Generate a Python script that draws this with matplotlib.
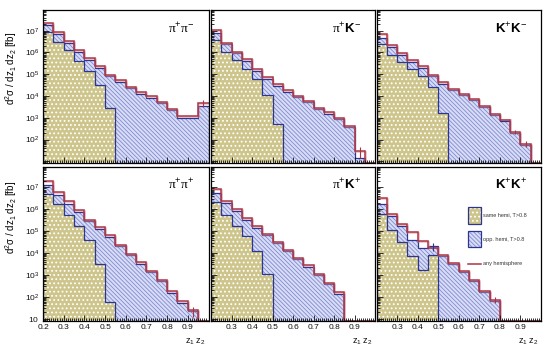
import numpy as np
import matplotlib
matplotlib.use("Agg")
import matplotlib.pyplot as plt
import matplotlib.patheffects as pe
from matplotlib.patches import Rectangle
from matplotlib.lines import Line2D
from matplotlib.ticker import MultipleLocator, LogLocator

plt.rcParams['font.family'] = ['Liberation Sans', 'DejaVu Sans']
plt.rcParams['mathtext.fontset'] = 'custom'
plt.rcParams['mathtext.rm'] = 'Liberation Sans'
plt.rcParams['mathtext.it'] = 'Liberation Sans:italic'
plt.rcParams['mathtext.bf'] = 'Liberation Sans:bold'
plt.rcParams['mathtext.sf'] = 'Liberation Serif'   # used for an upright serif pi
plt.rcParams['hatch.linewidth'] = 0.7

# z1*z2 bins, 0.05 wide
z_edges = np.round(np.arange(0.2, 1.0001, 0.05), 2)

# log10( d2sigma/dz1dz2 [fb] ) per bin, None = empty bin
# any = any hemisphere, opp = opp. hemi T>0.8, same = same hemi T>0.8
pipm_any = [7.37, 6.93, 6.53, 6.12, 5.74, 5.36, 4.98, 4.72, 4.41, 4.17, 3.98, 3.72, 3.40, 3.07, 3.07, 3.68]
pipm_opp = [7.26, 6.84, 6.45, 6.04, 5.66, 5.28, 4.90, 4.65, 4.35, 4.11, 3.92, 3.66, 3.34, 3.01, 3.01, 3.56]
pipm_same = [6.96, 6.50, 6.09, 5.63, 5.17, 4.52, 3.45] + [None] * 9

piKm_any = [7.03, 6.45, 6.04, 5.69, 5.25, 4.85, 4.55, 4.26, 4.01, 3.79, 3.45, 3.25, 2.99, 2.61, 1.47, None]
piKm_opp = [6.91, 6.38, 5.97, 5.62, 5.17, 4.79, 4.47, 4.18, 3.95, 3.72, 3.40, 3.19, 2.95, 2.58, 1.16, None]
piKm_same = [6.58, 6.04, 5.66, 5.25, 4.78, 4.03, 2.73] + [None] * 9

KpKm_any = [6.84, 6.32, 5.97, 5.66, 5.36, 4.98, 4.64, 4.33, 4.09, 3.86, 3.56, 3.19, 2.92, 2.35, 1.80, None]
KpKm_opp = [6.65, 6.24, 5.89, 5.58, 5.28, 4.90, 4.56, 4.29, 4.03, 3.80, 3.50, 3.13, 2.85, 2.31, 1.74, None]
KpKm_same = [6.38, 5.89, 5.54, 5.23, 4.90, 4.40, 3.22] + [None] * 9

pipp_any = [7.28, 6.79, 6.36, 5.95, 5.52, 5.17, 4.81, 4.38, 3.95, 3.59, 3.19, 2.78, 2.24, 1.79, 1.37, None]
pipp_opp = [7.10, 6.67, 6.26, 5.88, 5.45, 5.11, 4.73, 4.30, 3.89, 3.51, 3.13, 2.70, 2.17, 1.73, 1.33, None]
pipp_same = [6.70, 6.26, 5.75, 5.25, 4.61, 3.51, 1.74] + [None] * 9

piKp_any = [6.93, 6.39, 6.01, 5.60, 5.22, 4.87, 4.50, 4.15, 3.77, 3.43, 3.05, 2.63, 2.20, None, None, None]
piKp_opp = [6.74, 6.29, 5.91, 5.52, 5.14, 4.81, 4.44, 4.11, 3.72, 3.37, 3.01, 2.58, 2.14, None, None, None]
piKp_same = [6.33, 5.75, 5.25, 4.79, 4.11, 3.05] + [None] * 10

KpKp_any = [6.52, 5.78, 5.33, 4.94, 4.56, 4.25, 3.89, 3.54, 3.16, 2.78, 2.24, 1.86] + [None] * 4
KpKp_opp = [6.26, 5.68, 5.25, 4.61, 4.23, 4.30, 3.85, 3.50, 3.12, 2.74, 2.20, 1.82] + [None] * 4
KpKp_same = [5.78, 5.07, 4.49, 3.88, 3.22, 3.89] + [None] * 10

# relative stat. errors that are big enough to be seen: {bin index: fraction}
any_errors = {"pipm": {15: 0.35}, "piKm": {14: 0.5}, "KpKm": {13: 0.2, 14: 0.3},
              "pipp": {14: 0.5}, "piKp": {}, "KpKp": {11: 0.3}}
opp_errors = {"KpKp": {5: 0.4}}

panel_names = ["pipm", "piKm", "KpKm", "pipp", "piKp", "KpKp"]
PI = r"\mathsf{\pi}"
panel_labels = [rf"${PI}^{{+}}{PI}^{{-}}$", rf"${PI}^{{+}}\mathbf{{K}}^{{-}}$", r"$\mathbf{K}^{+}\mathbf{K}^{-}$",
                rf"${PI}^{{+}}{PI}^{{+}}$", rf"${PI}^{{+}}\mathbf{{K}}^{{+}}$", r"$\mathbf{K}^{+}\mathbf{K}^{+}$"]
panel_data = [(pipm_any, pipm_opp, pipm_same), (piKm_any, piKm_opp, piKm_same),
              (KpKm_any, KpKm_opp, KpKm_same), (pipp_any, pipp_opp, pipp_same),
              (piKp_any, piKp_opp, piKp_same), (KpKp_any, KpKp_opp, KpKp_same)]

x_ticks = [0.2, 0.3, 0.4, 0.5, 0.6, 0.7, 0.8, 0.9, 1.0]
x_ticklabels_first = ["0.2", "0.3", "0.4", "0.5", "0.6", "0.7", "0.8", "0.9", ""]
x_ticklabels_other = ["", "0.3", "0.4", "0.5", "0.6", "0.7", "0.8", "0.9", ""]
y_ticks = [1e1, 1e2, 1e3, 1e4, 1e5, 1e6, 1e7]
y_ticklabels_top = ["", r"$10^{2}$", r"$10^{3}$", r"$10^{4}$", r"$10^{5}$", r"$10^{6}$", r"$10^{7}$"]
y_ticklabels_bottom = [r"$10$", r"$10^{2}$", r"$10^{3}$", r"$10^{4}$", r"$10^{5}$", r"$10^{6}$", r"$10^{7}$"]

legend_labels = ["same hemi, T>0.8", "opp. hemi, T>0.8", "any hemisphere"]

# colours
SAME_FACE = '#cdc58b'
OPP_FACE = '#d9ddf4'
OPP_HATCH = '#7f8ad4'
OUTLINE = '#2c3591'
RED = '#a83545'
OPP_HATCH_STR = '\\' * 8
SAME_HATCH_STR = '....'


def thin_hatch(artist, lw):
    # per-artist hatch width where matplotlib supports it
    if hasattr(artist, 'set_hatch_linewidth'):
        artist.set_hatch_linewidth(lw)
    return artist


W, H = 549, 347
YMIN, YMAX = 10 ** 0.9, 10 ** 7.95
col_x = [(43, 208.5), (211, 375), (376.5, 541)]   # pixel extents of the 3 columns
row_y = [(10, 163.5), (166.7, 320.7)]              # pixel extents of the 2 rows


def to_vals(logs):
    return np.array([10 ** v if v is not None else YMIN for v in logs])


fig = plt.figure(figsize=(W / 100, H / 100), dpi=100)

for k, name in enumerate(panel_names):
    r, c = divmod(k, 3)
    x0, x1 = col_x[c]
    y0, y1 = row_y[r]
    ax = fig.add_axes([x0 / W, 1 - y1 / H, (x1 - x0) / W, (y1 - y0) / H])

    any_v, opp_v, same_v = (to_vals(d) for d in panel_data[k])

    # opposite hemisphere: hatched blue
    thin_hatch(ax.stairs(opp_v, z_edges, baseline=YMIN, fill=True, facecolor=OPP_FACE,
                         edgecolor=OPP_HATCH, hatch=OPP_HATCH_STR, linewidth=0), 0.6)
    ax.stairs(opp_v, z_edges, baseline=YMIN, color=OUTLINE, lw=0.9)
    # same hemisphere: dotted yellow, drawn in front
    thin_hatch(ax.stairs(same_v, z_edges, baseline=YMIN, fill=True, facecolor=SAME_FACE,
                         edgecolor='white', hatch=SAME_HATCH_STR, linewidth=0), 0.8)
    ax.stairs(same_v, z_edges, baseline=YMIN, color=OUTLINE, lw=0.9)
    # any hemisphere: red line with a soft shadow
    ax.stairs(any_v, z_edges, baseline=None, color=RED, lw=1.1,
              path_effects=[pe.SimpleLineShadow(offset=(0.7, -0.7), shadow_color='#e58a96', alpha=0.6),
                            pe.Normal()])

    centers = 0.5 * (z_edges[:-1] + z_edges[1:])
    for i, frac in any_errors.get(name, {}).items():
        ax.errorbar(centers[i], any_v[i], yerr=frac * any_v[i], color=RED, lw=0.8, capsize=0)
    for i, frac in opp_errors.get(name, {}).items():
        ax.errorbar(centers[i], opp_v[i], yerr=frac * opp_v[i], color=OUTLINE, lw=0.8, capsize=0)

    ax.set_yscale('log')
    ax.set_xlim(0.2, 1.0)
    ax.set_ylim(YMIN, YMAX)
    ax.set_xticks(x_ticks)
    ax.xaxis.set_minor_locator(MultipleLocator(0.01))
    ax.set_yticks(y_ticks)
    ax.yaxis.set_minor_locator(LogLocator(base=10, subs=np.arange(2, 10), numticks=20))
    ax.tick_params(which='both', direction='in', top=False, right=False, width=0.6,
                   labelsize=6, colors='#111111', pad=2.5)
    ax.tick_params(which='major', length=4)
    ax.tick_params(which='minor', length=2)
    for s in ax.spines.values():
        s.set_linewidth(0.9)

    if r == 1:
        ax.set_xticklabels(x_ticklabels_first if c == 0 else x_ticklabels_other)
        ax.text(0.985, -0.135, r"$\mathrm{z_1\ z_2}$", transform=ax.transAxes,
                ha='right', va='center', fontsize=6.5, color='#111111')
    else:
        ax.tick_params(labelbottom=False)
    if c == 0:
        ax.set_yticklabels(y_ticklabels_top if r == 0 else y_ticklabels_bottom)
        ax.text(-0.19, 0.86 if r == 0 else 0.905, r"$\mathrm{d^{2}\sigma\ /\ dz_{1}\ dz_{2}\ [fb]}$",
                transform=ax.transAxes, rotation=90, ha='center', va='top', fontsize=7)
    else:
        ax.tick_params(labelleft=False)

    ax.text(0.915, 0.88, panel_labels[k], transform=ax.transAxes, ha='right', va='center',
            fontsize=9.5)

    if name == "KpKp":
        bx0, bw = 0.555, 0.08
        thin_hatch(ax.add_patch(Rectangle((bx0, 0.63), bw, 0.11, transform=ax.transAxes,
                                          facecolor=SAME_FACE, edgecolor='white',
                                          hatch=SAME_HATCH_STR, lw=0)), 0.8)
        ax.add_patch(Rectangle((bx0, 0.63), bw, 0.11, transform=ax.transAxes, fill=False,
                               edgecolor=OUTLINE, lw=0.9))
        thin_hatch(ax.add_patch(Rectangle((bx0, 0.48), bw, 0.105, transform=ax.transAxes,
                                          facecolor=OPP_FACE, edgecolor=OPP_HATCH,
                                          hatch=OPP_HATCH_STR, lw=0)), 0.6)
        ax.add_patch(Rectangle((bx0, 0.48), bw, 0.105, transform=ax.transAxes, fill=False,
                               edgecolor=OUTLINE, lw=0.9))
        ax.add_line(Line2D([bx0, bx0 + bw], [0.37, 0.37], transform=ax.transAxes, color=RED, lw=1.1))
        for yy, lab in zip([0.685, 0.53, 0.37], legend_labels):
            ax.text(bx0 + bw + 0.015, yy, lab, transform=ax.transAxes, ha='left', va='center',
                    fontsize=4, color='#333333')

fig.savefig("out.png", dpi=100)
